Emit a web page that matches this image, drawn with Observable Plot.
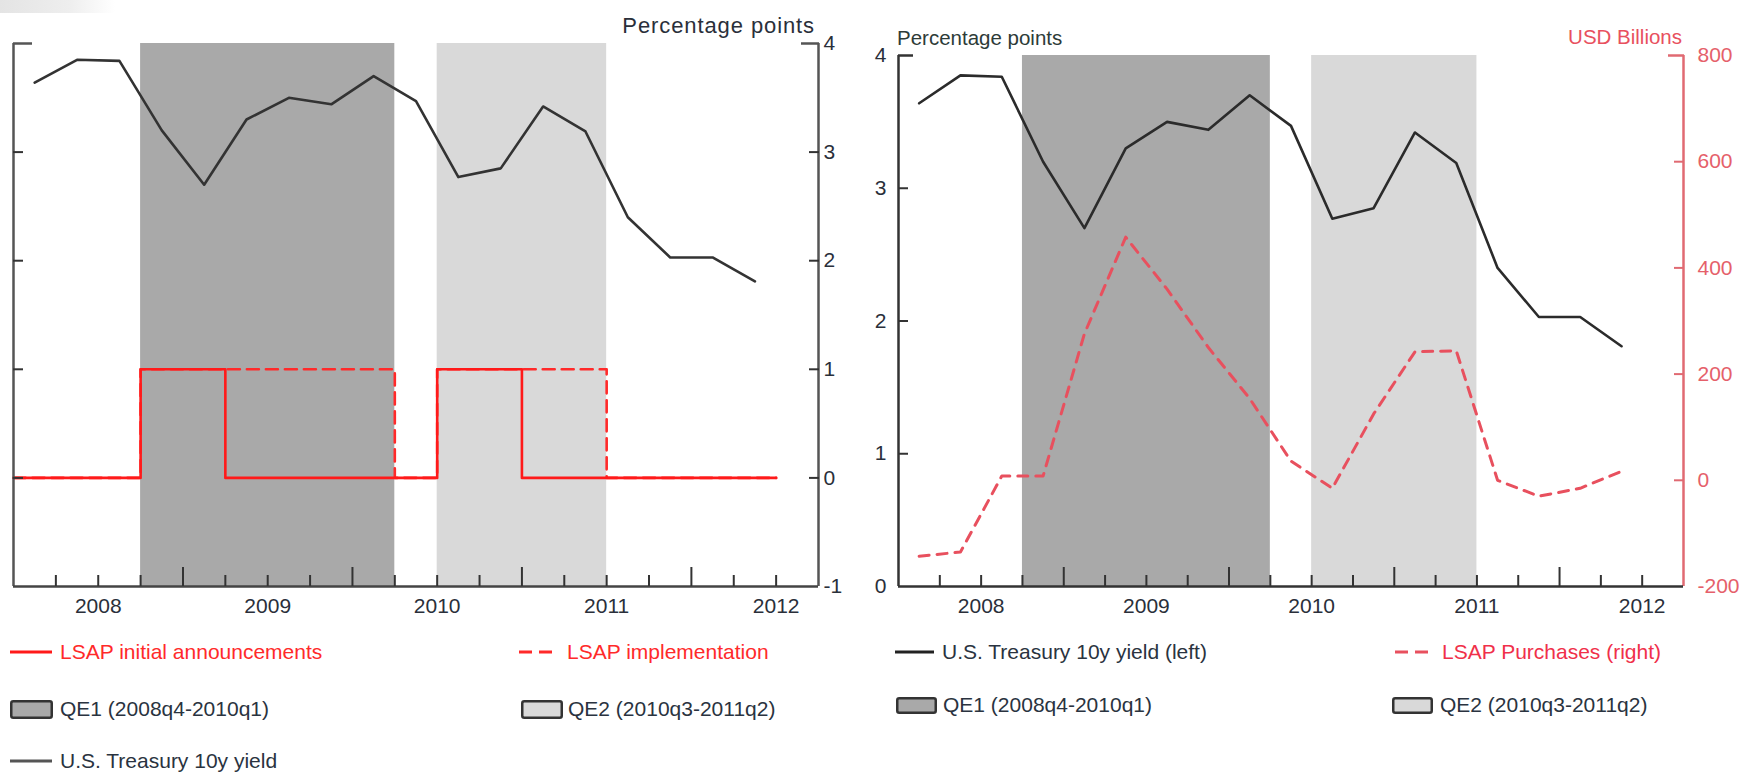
<!DOCTYPE html>
<html><head><meta charset="utf-8">
<script src="https://cdn.jsdelivr.net/npm/d3@7"></script>
<script src="https://cdn.jsdelivr.net/npm/@observablehq/plot@0.6"></script>
<style>
html,body{margin:0;padding:0;background:#fff;}
#root{position:relative;width:1739px;height:772px;overflow:hidden;font-family:"Liberation Sans",Arial,sans-serif;}
.abs{position:absolute;white-space:nowrap;line-height:1;}
.lg{position:absolute;white-space:nowrap;font-size:21px;line-height:24px;transform:translateY(-50%);display:flex;align-items:center;}
.lg svg{display:block;flex:none;}
</style></head><body><div id="root"></div>
<script>
// ---------- data ----------
const quarters = ["2008q1","2008q2","2008q3","2008q4","2009q1","2009q2","2009q3","2009q4","2010q1","2010q2","2010q3","2010q4","2011q1","2011q2","2011q3","2011q4","2012q1","2012q2"];
const yield10y = [3.64,3.85,3.84,3.20,2.70,3.30,3.50,3.44,3.70,3.47,2.77,2.85,3.42,3.19,2.40,2.03,2.03,1.81];
const lsapAnnouncements = [0,0,0,1,1,0,0,0,0,0,1,1,0,0,0,0,0,0];
const lsapImplementation = [0,0,0,1,1,1,1,1,1,0,1,1,1,1,0,0,0,0];
const lsapPurchases = [-143,-135,8,8,276,458,360,250,154,36,-15,125,242,244,0,-30,-15,17];
const qeNames = ["QE1","QE2"];
const qeStart = ["2008q4","2010q3"];
const qeEnd = ["2010q1","2011q2"];
const qeFills = ["#a9a9a9","#d9d9d9"];
const axisStart = "2008q1", axisEnd = "2012q3"; // last quarter shown on axis
const yearLabels = [2008,2009,2010,2011,2012];
const leftPanelTicks = [-1,0,1,2,3,4];
const rightPanelTicks = [0,1,2,3,4];
const usdTicks = [-200,0,200,400,600,800];
const legendLeft = ["LSAP initial announcements","LSAP implementation","QE1 (2008q4-2010q1)","QE2 (2010q3-2011q2)","U.S. Treasury 10y yield"];
const legendRight = ["U.S. Treasury 10y yield (left)","LSAP Purchases (right)","QE1 (2008q4-2010q1)","QE2 (2010q3-2011q2)"];
const unitLeft = "Percentage points", unitRight = "USD Billions";

// ---------- helpers ----------
const qPos = q => +q.slice(0,4) + (+q.slice(5) - 1) / 4;     // quarter start
const xDomain = [qPos(axisStart), qPos(axisEnd) + 0.25];
const quarterTicks = d3.range(xDomain[0] + 0.25, xDomain[1] - 0.01, 0.25).filter(v => Math.abs(v - Math.round(v)) > 1e-6);
const yearTicks = yearLabels.slice(1);
const yearMid = yearLabels.map(y => y + 0.5);
const intFmt = d => String(Math.round(d));

const yieldData = quarters.map((q, i) => ({x: qPos(q) + 0.125, v: yield10y[i]}));
const stepData = quarters.map((q, i) => ({x: qPos(q), a: lsapAnnouncements[i], m: lsapImplementation[i]}));
stepData.push({x: qPos(quarters[quarters.length-1]) + 0.25, a: lsapAnnouncements.at(-1), m: lsapImplementation.at(-1)});
const purchData = quarters.map((q, i) => ({x: qPos(q) + 0.125, v: lsapPurchases[i]}));
const qeData = qeNames.map((n, i) => ({name: n, x1: qPos(qeStart[i]), x2: qPos(qeEnd[i]) + 0.25, fill: qeFills[i]}));

const FONT = "'Liberation Sans', Arial, sans-serif";
const root = document.getElementById("root");

function xAxes(color) {
  return [
    Plot.axisX({ticks: quarterTicks, tickSize: -11, tickFormat: () => "", label: null, stroke: color, strokeWidth: 2}),
    Plot.axisX({ticks: yearTicks, tickSize: -19, tickFormat: () => "", label: null, stroke: color, strokeWidth: 2}),
    Plot.axisX({ticks: yearMid, tickSize: 0, tickPadding: 12, tickFormat: d => String(Math.floor(d)), label: null, fill: "#2a2f3a"})
  ];
}

// ---------- left panel ----------
const yL = [leftPanelTicks[0], leftPanelTicks.at(-1)];
const left = Plot.plot({
  width: 870, height: 630,
  marginLeft: 13, marginRight: 52, marginTop: 43, marginBottom: 44,
  x: {domain: xDomain},
  y: {domain: yL},
  style: {fontFamily: FONT, fontSize: "21px", background: "transparent", color: "#2a2f3a", overflow: "visible"},
  marks: [
    ...qeData.map(d => Plot.rect([d], {x1: "x1", x2: "x2", fill: d.fill})),
    Plot.line(yieldData, {x: "x", y: "v", stroke: "#333", strokeWidth: 2.6}),
    Plot.line(stepData, {x: "x", y: "m", curve: "step-after", stroke: "#ff2a2a", strokeWidth: 2.6, strokeDasharray: "12,7"}),
    Plot.line(stepData, {x: "x", y: "a", curve: "step-after", stroke: "#ff1a1a", strokeWidth: 2.6}),
    Plot.ruleX([xDomain[0]], {stroke: "#555", strokeWidth: 2.5}),
    Plot.ruleX([xDomain[1]], {stroke: "#555", strokeWidth: 2.5}),
    Plot.ruleY([yL[0]], {stroke: "#444", strokeWidth: 2.5}),
    Plot.axisY({anchor: "left", ticks: leftPanelTicks.slice(1, -1), tickSize: -10, tickFormat: () => "", label: null, stroke: "#333", strokeWidth: 2}),
    Plot.axisY({anchor: "left", ticks: [yL[1]], tickSize: -19, tickFormat: () => "", label: null, stroke: "#555", strokeWidth: 2.5}),
    Plot.axisY({anchor: "right", ticks: leftPanelTicks.slice(1, -1), tickSize: -10, tickFormat: () => "", label: null, stroke: "#333", strokeWidth: 2}),
    Plot.axisY({anchor: "right", ticks: [yL[1]], tickSize: -18, tickFormat: () => "", label: null, stroke: "#555", strokeWidth: 2.5}),
    Plot.axisY({anchor: "right", ticks: leftPanelTicks, tickSize: 0, tickPadding: 5, tickFormat: intFmt, label: null, fill: "#2a2f3a"}),
    ...xAxes("#333")
  ]
});
left.style.position = "absolute"; left.style.left = "0px"; left.style.top = "0px";
root.appendChild(left);

// ---------- right panel ----------
const yR = [rightPanelTicks[0], rightPanelTicks.at(-1)];
const usdDomain = [usdTicks[0], usdTicks.at(-1)];
const toLeft = v => yR[0] + (v - usdDomain[0]) / (usdDomain[1] - usdDomain[0]) * (yR[1] - yR[0]);
const fromLeft = y => usdDomain[0] + (y - yR[0]) / (yR[1] - yR[0]) * (usdDomain[1] - usdDomain[0]);
const RED2 = "#e8505e";
const right = Plot.plot({
  width: 869, height: 630,
  marginLeft: 28, marginRight: 56, marginTop: 55, marginBottom: 44,
  x: {domain: xDomain},
  y: {domain: yR},
  style: {fontFamily: FONT, fontSize: "21px", background: "transparent", color: "#2a2f3a", overflow: "visible"},
  marks: [
    ...qeData.map(d => Plot.rect([d], {x1: "x1", x2: "x2", fill: d.fill})),
    Plot.line(yieldData, {x: "x", y: "v", stroke: "#2b2b2b", strokeWidth: 2.6}),
    Plot.line(purchData, {x: "x", y: d => toLeft(d.v), stroke: RED2, strokeWidth: 3, strokeDasharray: "10,8"}),
    Plot.ruleX([xDomain[0]], {stroke: "#333", strokeWidth: 2.5}),
    Plot.ruleX([xDomain[1]], {stroke: "#e06a72", strokeWidth: 2.5}),
    Plot.ruleY([yR[0]], {stroke: "#333", strokeWidth: 2.5}),
    Plot.axisY({anchor: "left", ticks: rightPanelTicks.slice(1, -1), tickSize: -10, tickFormat: () => "", label: null, stroke: "#333", strokeWidth: 2}),
    Plot.axisY({anchor: "left", ticks: [yR[1]], tickSize: -15, tickFormat: () => "", label: null, stroke: "#333", strokeWidth: 2.5}),
    Plot.axisY({anchor: "left", ticks: rightPanelTicks, tickSize: 0, tickPadding: 12, tickFormat: intFmt, label: null, fill: "#2a2f3a"}),
    Plot.axisY({anchor: "right", ticks: usdTicks.slice(1, -1).map(toLeft), tickSize: -10, tickFormat: () => "", label: null, stroke: "#e06a72", strokeWidth: 2}),
    Plot.axisY({anchor: "right", ticks: [toLeft(usdTicks.at(-1))], tickSize: -16, tickFormat: () => "", label: null, stroke: "#e06a72", strokeWidth: 2.5}),
    Plot.axisY({anchor: "right", ticks: usdTicks.map(toLeft), tickSize: 0, tickPadding: 14, tickFormat: d => intFmt(fromLeft(d)), label: null, fill: "#e5606a"}),
    ...xAxes("#333")
  ]
});
right.style.position = "absolute"; right.style.left = "870px"; right.style.top = "0px";
root.appendChild(right);

// ---------- unit labels ----------
function label(text, css) {
  const d = document.createElement("div");
  d.className = "abs"; d.textContent = text;
  Object.assign(d.style, css);
  root.appendChild(d);
}
label(unitLeft, {right: (1739 - 815) + "px", top: "15px", fontSize: "22px", letterSpacing: "0.9px", color: "#2a2f3a"});
label(unitLeft, {left: "897px", top: "28px", fontSize: "20.5px", color: "#2d3b38"});
label(unitRight, {right: (1739 - 1682) + "px", top: "27px", fontSize: "20.5px", color: "#e8505e"});

// top-left artefact
const bar = document.createElement("div");
Object.assign(bar.style, {position: "absolute", left: "0px", top: "0px", width: "115px", height: "13px", background: "linear-gradient(to right,#e4e4e4,#eeeeee 60%,#fff)"});
root.appendChild(bar);

// ---------- legends ----------
function swatch(type, color, w, h) {
  const ns = "http://www.w3.org/2000/svg";
  const s = document.createElementNS(ns, "svg");
  s.setAttribute("width", w); s.setAttribute("height", h || 20);
  if (type === "rect") {
    const r = document.createElementNS(ns, "rect");
    r.setAttribute("x", 1.25); r.setAttribute("y", 1.25); r.setAttribute("width", w - 2.5); r.setAttribute("height", h - 2.5);
    r.setAttribute("rx", 2); r.setAttribute("fill", color); r.setAttribute("stroke", "#333"); r.setAttribute("stroke-width", 2.5);
    s.appendChild(r);
  } else {
    const l = document.createElementNS(ns, "line");
    l.setAttribute("x1", 0); l.setAttribute("x2", w); l.setAttribute("y1", 10); l.setAttribute("y2", 10);
    l.setAttribute("stroke", color); l.setAttribute("stroke-width", 3);
    if (type === "dash") l.setAttribute("stroke-dasharray", "13,7");
    s.appendChild(l);
  }
  return s;
}
function legend(x, y, sw, gap, text, color) {
  const d = document.createElement("div");
  d.className = "lg";
  d.style.left = x + "px"; d.style.top = y + "px"; d.style.color = color;
  d.appendChild(sw);
  const t = document.createElement("span"); t.textContent = text; t.style.marginLeft = gap + "px";
  d.appendChild(t);
  root.appendChild(d);
}
const DARK = "#2a3340";
legend(10, 652, swatch("line", "#ff1a1a", 42), 8, legendLeft[0], "#ff2a2a");
legend(519, 652, swatch("dash", "#ff2a2a", 33), 15, legendLeft[1], "#ff2a2a");
legend(10, 709, swatch("rect", qeFills[0], 43, 19), 7, legendLeft[2], DARK);
legend(521, 709, swatch("rect", qeFills[1], 42, 19), 5, legendLeft[3], DARK);
legend(10, 761, swatch("line", "#555", 42), 8, legendLeft[4], DARK);

legend(895, 652, swatch("line", "#222", 39), 8, legendRight[0], DARK);
legend(1395, 652, swatch("dash", RED2, 33), 14, legendRight[1], "#f0304a");
legend(896, 705, swatch("rect", qeFills[0], 41, 17), 6, legendRight[2], DARK);
legend(1392, 705, swatch("rect", qeFills[1], 41, 17), 7, legendRight[3], DARK);
</script></body></html>
